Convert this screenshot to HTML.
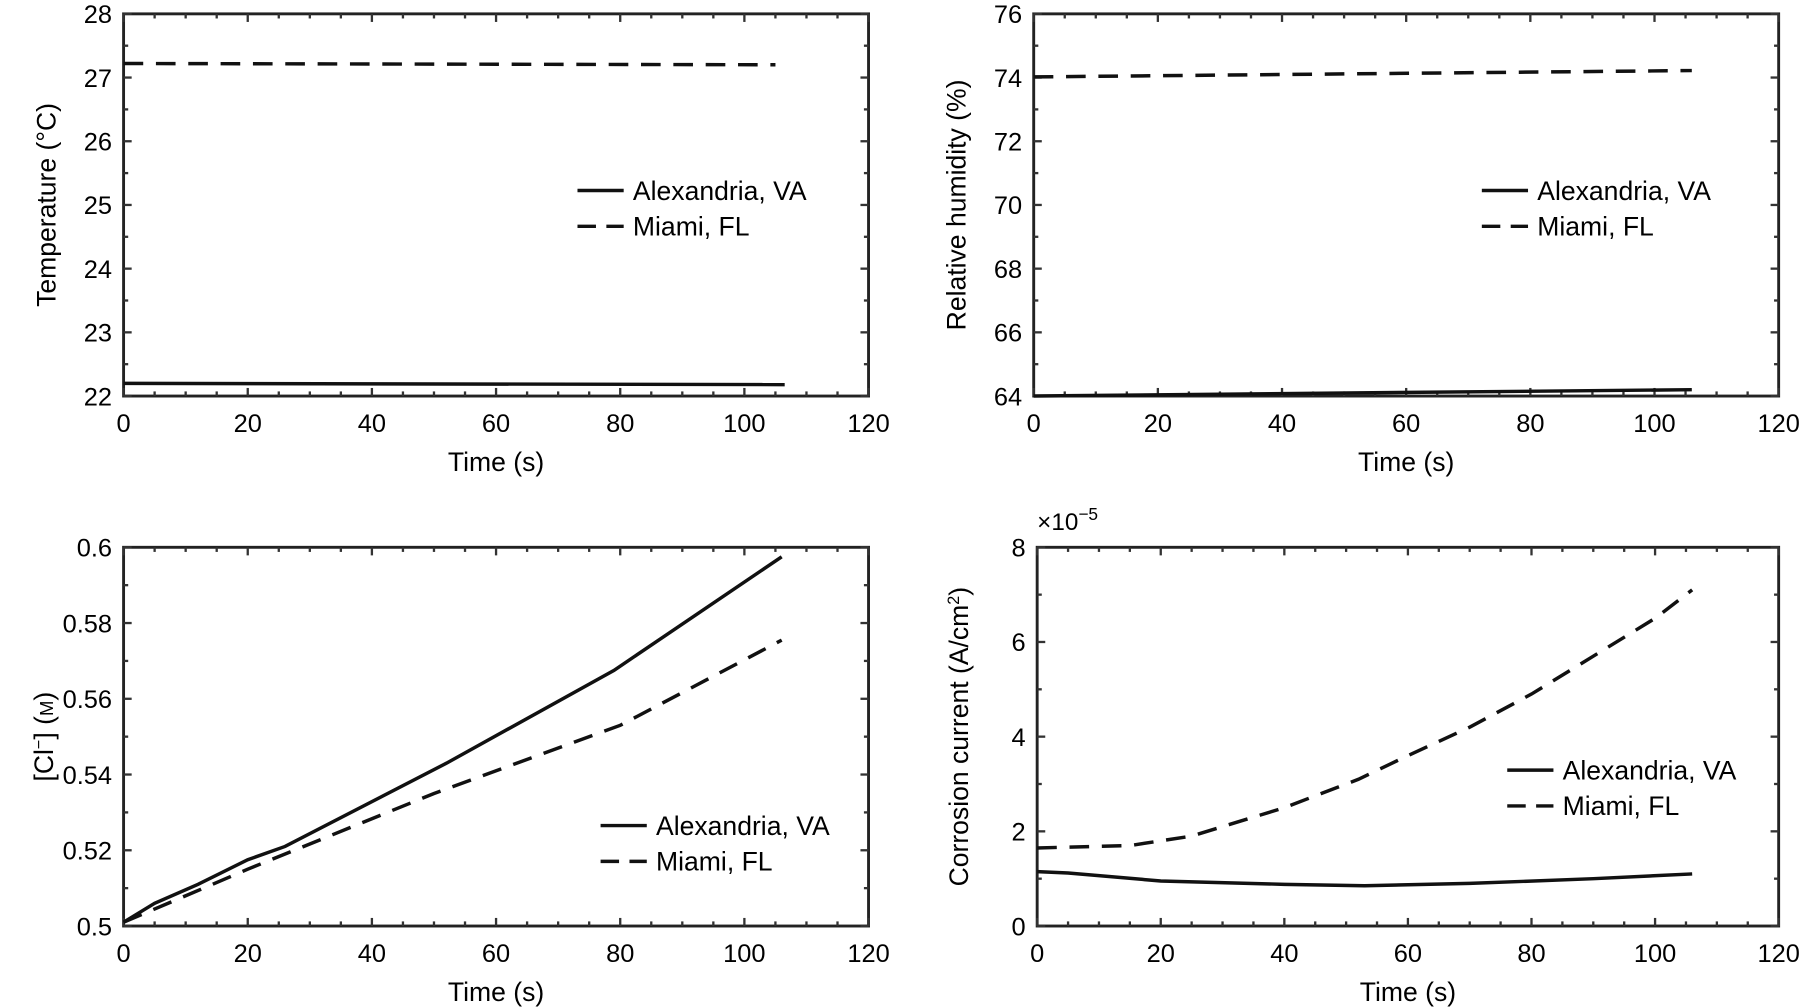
<!DOCTYPE html><html><head><meta charset="utf-8"><style>body{margin:0;background:#fff}svg{display:block}</style></head><body>
<svg id="s" width="1811" height="1008" viewBox="0 0 1568 873" preserveAspectRatio="none" xmlns="http://www.w3.org/2000/svg" font-family="Liberation Sans, sans-serif"></svg>
<script>
const s=document.getElementById('s');let h='';
function panel(o){
 const {x0,x1,y0,y1,ymin,ymax,ymaj,ylabels}=o;
 const X=v=>x0+(x1-x0)*v/120, Y=v=>y1-(y1-y0)*(v-ymin)/(ymax-ymin);
 h+=`<rect x="${x0}" y="${y0}" width="${x1-x0}" height="${y1-y0}" fill="none" stroke="#222" stroke-width="2.5"/>`;
 for(let v=0;v<=120;v+=5){const x=X(v),L=v%20==0?7:4;
  h+=`<line x1="${x}" y1="${y1}" x2="${x}" y2="${y1-L}" stroke="#333" stroke-width="2"/><line x1="${x}" y1="${y0}" x2="${x}" y2="${y0+L}" stroke="#333" stroke-width="2"/>`;
  if(v%20==0)h+=`<text x="${x}" y="${y1+31}" font-size="22" text-anchor="middle">${v}</text>`;}
 const n=Math.round((ymax-ymin)/ymaj);
 for(let i=0;i<=n*2;i++){const v=ymin+i*ymaj/2,y=Y(v),L=i%2==0?7:4;
  h+=`<line x1="${x0}" y1="${y}" x2="${x0+L}" y2="${y}" stroke="#333" stroke-width="2"/><line x1="${x1}" y1="${y}" x2="${x1-L}" y2="${y}" stroke="#333" stroke-width="2"/>`;
  if(i%2==0)h+=`<text x="${x0-10}" y="${y+8}" font-size="22" text-anchor="end">${ylabels(v)}</text>`;}
 h+=`<text x="${(x0+x1)/2}" y="${y1+65}" font-size="23" text-anchor="middle">Time (s)</text>`;
 h+=`<text transform="translate(${o.ylx},${(y0+y1)/2}) rotate(-90)" font-size="23" text-anchor="middle">${o.ylab}</text>`;
 for(const sr of o.series){const p=sr.pts.map(q=>X(q[0]).toFixed(1)+','+Y(q[1]).toFixed(1)).join(' ');
  h+=`<polyline points="${p}" fill="none" stroke="#111" stroke-width="3" ${sr.d?'stroke-dasharray="17,11"':''}/>`;}
 const [lx,ly]=o.leg;
 h+=`<line x1="${lx}" y1="${ly}" x2="${lx+40}" y2="${ly}" stroke="#111" stroke-width="3"/><text x="${lx+48}" y="${ly+8}" font-size="23">Alexandria, VA</text>`;
 h+=`<line x1="${lx}" y1="${ly+31}" x2="${lx+40}" y2="${ly+31}" stroke="#111" stroke-width="3" stroke-dasharray="16,9"/><text x="${lx+48}" y="${ly+39}" font-size="23">Miami, FL</text>`;
}
panel({x0:107,x1:752,y0:12,y1:343,ymin:22,ymax:28,ymaj:1,ylabels:v=>v,ylx:48,ylab:'Temperature (°C)',leg:[500,165],
 series:[{pts:[[0,27.22],[105,27.2]],d:1},{pts:[[0,22.2],[106.5,22.18]]}]});
panel({x0:895,x1:1540,y0:12,y1:343,ymin:64,ymax:76,ymaj:2,ylabels:v=>v,ylx:836,ylab:'Relative humidity (%)',leg:[1283,165],
 series:[{pts:[[0,74.02],[106,74.22]],d:1},{pts:[[0,64.0],[106,64.2]]}]});
panel({x0:107,x1:752,y0:474,y1:802,ymin:0.5,ymax:0.6,ymaj:0.02,ylabels:v=>v.toFixed(2).replace(/0$/,''),ylx:46,ylab:'[Cl<tspan baseline-shift="super" font-size="14">−</tspan>] (<tspan font-size="16">M</tspan>)',leg:[520,715],
 series:[{pts:[[0,0.501],[5,0.506],[12,0.511],[20,0.5175],[26,0.521],[52,0.543],[79,0.5675],[106,0.5975]]},
 {pts:[[0,0.501],[10,0.508],[20,0.515],[50,0.535],[80,0.553],[106,0.5755]],d:1}]});
panel({x0:898,x1:1540,y0:474,y1:802,ymin:0,ymax:8,ymaj:2,ylabels:v=>v,ylx:838,ylab:'Corrosion current (A/cm<tspan baseline-shift="super" font-size="14">2</tspan>)',leg:[1305,667],
 series:[{pts:[[0,1.65],[15,1.7],[25,1.9],[40,2.5],[52,3.1],[60,3.6],[70,4.2],[80,4.9],[90,5.7],[100,6.5],[106,7.1]],d:1},
 {pts:[[0,1.15],[5,1.12],[20,0.95],[40,0.88],[53,0.85],[70,0.9],[90,1.0],[106,1.1]]}]});
h+=`<text x="898" y="459" font-size="21">×10<tspan baseline-shift="super" font-size="15">−5</tspan></text>`;
s.innerHTML=h;
</script></body></html>
